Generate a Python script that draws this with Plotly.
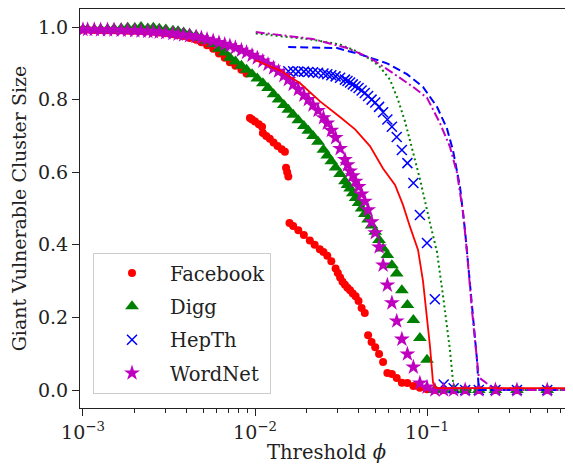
import plotly.graph_objects as go

# ---------------- data ----------------
# scatter points sit at threshold phi = 1/k
K = [2, 3, 4, 5, 6, 7, 8, 9, 10, 11, 12, 13, 14, 15, 16, 17, 18, 19, 20, 21, 22, 23, 24, 25, 26, 27, 28, 29, 30,
     32, 34, 36, 38, 40, 43, 46, 49, 52, 56, 60, 64, 68, 73, 78, 84, 90, 97, 104, 112, 120, 130, 140, 150, 162,
     175, 190, 205, 220, 240, 260, 280, 300, 330, 360, 390, 420, 460, 500, 550, 600, 660, 720, 790, 860, 940, 1000]

digg_y = [0, 0, 0, 0, 0, 0, 0, 0, 0.083, 0.143, 0.193, 0.234, 0.275, 0.321, 0.344, 0.372, 0.39, 0.413, 0.436, 0.453,
          0.470, 0.485, 0.50, 0.515, 0.529, 0.542, 0.555, 0.565, 0.575,
          0.595, 0.613, 0.63, 0.646, 0.662, 0.684, 0.70, 0.714, 0.727, 0.743, 0.758, 0.772, 0.785, 0.80, 0.815,
          0.832, 0.845, 0.858, 0.87, 0.882, 0.893, 0.905, 0.915, 0.93, 0.94,
          0.953, 0.962, 0.97, 0.976, 0.981, 0.985, 0.988, 0.99, 0.993, 0.995,
          0.998, 0.996, 1.0, 0.997, 0.998, 0.996, 0.995, 0.994, 0.994, 0.993, 0.993, 0.993]

wordnet_y = [0, 0, 0, 0, 0, 0, 0, 0, 0.008, 0.019, 0.063, 0.099, 0.14, 0.19, 0.24, 0.289, 0.344, 0.394, 0.433, 0.463,
             0.496, 0.52, 0.54, 0.56, 0.575, 0.59, 0.603, 0.62, 0.635,
             0.665, 0.695, 0.715, 0.735, 0.75, 0.77, 0.785, 0.80, 0.812, 0.828, 0.842, 0.855, 0.866, 0.878, 0.887,
             0.897, 0.906, 0.915, 0.922, 0.93, 0.936, 0.943, 0.948, 0.952, 0.957,
             0.962, 0.966, 0.97, 0.973, 0.976, 0.978, 0.98, 0.982, 0.984, 0.986,
             0.987, 0.988, 0.989, 0.99, 0.991, 0.991, 0.992, 0.992, 0.992, 0.993, 0.993, 0.993]

K_hep = [2, 3, 4, 5, 6, 7, 8, 9, 10, 11, 12, 13, 14, 15, 16, 17, 18, 19, 20, 21, 22, 23, 24, 25, 26, 27, 28, 29, 30,
         32, 34, 36, 38, 40, 43, 46, 49, 52, 56, 60, 64]
hepth_y = [0, 0, 0, 0, 0, 0.005, 0.015, 0.25, 0.405, 0.482, 0.57, 0.625, 0.661, 0.697, 0.725, 0.745, 0.765, 0.78,
           0.792, 0.80, 0.81, 0.818, 0.825, 0.832, 0.837, 0.842, 0.847, 0.851, 0.855,
           0.86, 0.864, 0.867, 0.87, 0.872, 0.874, 0.875, 0.876, 0.877, 0.877, 0.878, 0.878]

K_fb = [2, 3, 4, 5, 6, 7, 8, 9, 10, 11, 12, 13, 14, 15, 16, 17, 18, 19, 20, 21, 22, 23, 24, 25, 26, 27, 28, 29, 30,
        31, 32, 33, 34, 36, 38, 40, 42, 45, 48, 52, 56, 60, 63, 64, 65, 66, 67, 70, 74, 78, 82, 86, 90,
        91, 95, 100, 104, 107, 112, 120, 130, 140, 150, 162, 175, 190, 205, 220, 240, 260, 280, 300, 330, 360,
        390, 420, 460, 500, 550, 600, 660, 720, 790, 860, 940, 1000]
facebook_y = [0, 0, 0, 0, 0, 0, 0, 0, 0.002, 0.006, 0.011, 0.019, 0.02, 0.033, 0.044, 0.047, 0.077, 0.099, 0.118,
              0.132, 0.151, 0.212, 0.226, 0.245, 0.258, 0.266, 0.275, 0.282, 0.29,
              0.298, 0.31, 0.322, 0.335, 0.355, 0.37, 0.38, 0.388, 0.40, 0.412, 0.427, 0.44, 0.452, 0.46,
              0.588, 0.60, 0.612, 0.656, 0.663, 0.672, 0.682, 0.692, 0.70, 0.708,
              0.725, 0.732, 0.74, 0.745, 0.749, 0.872, 0.882, 0.893, 0.903, 0.915, 0.927, 0.94, 0.95, 0.958, 0.965,
              0.97, 0.975, 0.978, 0.98, 0.983, 0.985,
              0.987, 0.988, 0.989, 0.99, 0.99, 0.991, 0.991, 0.991, 0.992, 0.992, 0.993, 0.993]

# theory curves
fb_line_phi = [0.0100, 0.0140, 0.0183, 0.0239, 0.0312, 0.0382, 0.0466, 0.0555, 0.0652, 0.0725, 0.0796, 0.0887,
               0.0948, 0.1000, 0.1041, 0.1084, 0.1128, 0.706]
fb_line_y = [0.909, 0.880, 0.845, 0.795, 0.752, 0.718, 0.672, 0.61, 0.565, 0.51, 0.45, 0.386, 0.30, 0.20, 0.12,
             0.02, 0.005, 0.005]

digg_line_phi = [0.0101, 0.0140, 0.0209, 0.0312, 0.0382, 0.0466, 0.0533, 0.0609, 0.0678, 0.0745, 0.0818, 0.0911,
                 0.1041, 0.1143, 0.1239, 0.1360, 0.1416, 0.1455, 0.706]
digg_line_y = [0.982, 0.975, 0.966, 0.952, 0.935, 0.912, 0.89, 0.855, 0.80, 0.74, 0.665, 0.58, 0.46, 0.38, 0.26,
               0.11, 0.025, 0.0, 0.0]

hep_line_phi = [0.0156, 0.0300, 0.0408, 0.0585, 0.0765, 0.0948, 0.1143, 0.1307, 0.1416, 0.1555, 0.1663, 0.1731,
                0.1847, 0.1953, 0.2000, 0.706]
hep_line_y = [0.945, 0.942, 0.925, 0.90, 0.87, 0.835, 0.78, 0.72, 0.66, 0.56, 0.44, 0.35, 0.20, 0.083, 0.0, 0.0]

wn_line_phi = [0.0101, 0.0140, 0.0217, 0.0343, 0.0466, 0.0634, 0.0829, 0.1000, 0.1190, 0.1360, 0.1494, 0.1620,
               0.1708, 0.1826, 0.1953, 0.2000, 0.2500, 0.706]
wn_line_y = [0.986, 0.978, 0.967, 0.942, 0.915, 0.873, 0.835, 0.805, 0.735, 0.67, 0.598, 0.49, 0.38, 0.22, 0.09,
             0.035, 0.0, 0.0]

x_tick_vals = [0.001, 0.01, 0.1]
x_tick_text = ["10<sup>\u22123</sup>", "10<sup>\u22122</sup>", "10<sup>\u22121</sup>"]
y_tick_vals = [0.0, 0.2, 0.4, 0.6, 0.8, 1.0]
y_tick_text = ["0.0", "0.2", "0.4", "0.6", "0.8", "1.0"]

RED, GREEN, BLUE, MAG = "#ff0000", "#008000", "#0000ff", "#bf00bf"
FONT = "DejaVu Serif"
INK = "#222222"

fig = go.Figure()

def inv(ks):
    return [1.0 / k for k in ks]

fig.add_trace(go.Scatter(x=inv(K_fb), y=facebook_y, mode="markers", name="Facebook", legendgroup="a",
                         marker=dict(symbol="circle", size=8, color=RED, line=dict(width=0))))
fig.add_trace(go.Scatter(x=inv(K), y=digg_y, mode="markers", name="Digg", legendgroup="b",
                         marker=dict(symbol="triangle-up", size=12, color=GREEN, line=dict(width=0))))
fig.add_trace(go.Scatter(x=inv(K_hep), y=hepth_y, mode="markers", name="HepTh", legendgroup="c",
                         marker=dict(symbol="x-thin", size=10, color=BLUE, line=dict(width=1.5, color=BLUE))))
fig.add_trace(go.Scatter(x=inv(K), y=wordnet_y, mode="markers", name="WordNet", legendgroup="d",
                         marker=dict(symbol="star", size=12, color=MAG, line=dict(width=0))))

fig.add_trace(go.Scatter(x=fb_line_phi, y=fb_line_y, mode="lines", showlegend=False,
                         line=dict(color=RED, width=1.8)))
fig.add_trace(go.Scatter(x=digg_line_phi, y=digg_line_y, mode="lines", showlegend=False,
                         line=dict(color=GREEN, width=2, dash="2px,3px")))
fig.add_trace(go.Scatter(x=hep_line_phi, y=hep_line_y, mode="lines", showlegend=False,
                         line=dict(color=BLUE, width=2, dash="8px,4px")))
fig.add_trace(go.Scatter(x=wn_line_phi, y=wn_line_y, mode="lines", showlegend=False,
                         line=dict(color=MAG, width=2, dash="9px,3px,2px,3px")))

minor_vals = [m * d for d in (0.001, 0.01, 0.1) for m in range(2, 10)]

# the page body has an 8px margin, so the figure is sized to fill the rest of the window
fig.update_layout(
    width=565, height=456,
    margin=dict(l=72, r=0, t=1, b=56, autoexpand=False),
    paper_bgcolor="white", plot_bgcolor="white",
    font=dict(family=FONT, size=20, color=INK),
    showlegend=True,
    legend=dict(x=0.0264, y=0.389, xanchor="left", yanchor="top",
                bgcolor="rgba(255,255,255,0.8)", bordercolor="#cccccc", borderwidth=1,
                font=dict(family=FONT, size=19.5, color=INK), tracegroupgap=5, itemwidth=66),
    xaxis=dict(type="log", range=[-3.0174, -0.1512], showgrid=False, zeroline=False,
               showline=True, linecolor=INK, linewidth=1.2, mirror=True,
               ticks="outside", ticklen=7, tickwidth=1, tickcolor=INK,
               tickvals=x_tick_vals, ticktext=x_tick_text,
               tickfont=dict(family=FONT, size=19, color=INK),
               minor=dict(ticks="outside", ticklen=4, tickwidth=0.8, tickcolor=INK,
                          tickvals=minor_vals, showgrid=False),
               title=dict(text="Threshold <i>\u03d5</i>", font=dict(family=FONT, size=19.5, color=INK),
                          standoff=3),
               automargin=False),
    yaxis=dict(range=[-0.0496, 1.0496], showgrid=False, zeroline=False,
               showline=True, linecolor=INK, linewidth=1.2, mirror=False,
               ticks="outside", ticklen=7, tickwidth=1, tickcolor=INK,
               tickvals=y_tick_vals, ticktext=y_tick_text,
               tickfont=dict(family=FONT, size=19, color=INK),
               title=dict(text="Giant Vulnerable Cluster Size", font=dict(family=FONT, size=19, color=INK),
                          standoff=9),
               automargin=False),
)

fig.write_html("out.html")
